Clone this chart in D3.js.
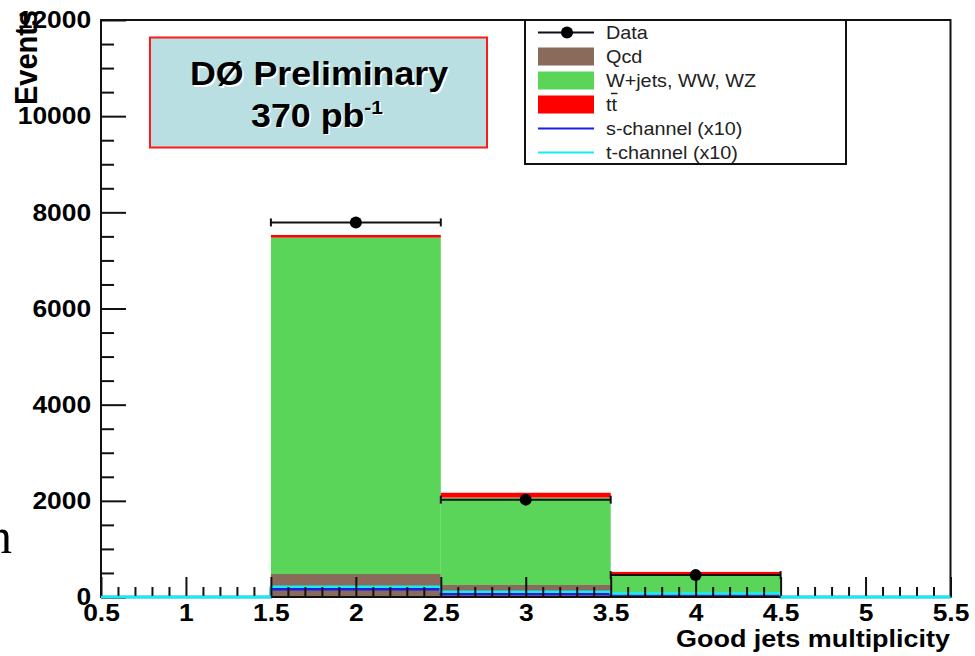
<!DOCTYPE html>
<html>
<head>
<meta charset="utf-8">
<script src="https://cdn.jsdelivr.net/npm/d3@7"></script>
<style>
  html, body { margin: 0; padding: 0; background: #fff; }
  svg { display: block; }
  text { font-family: "Liberation Sans", Arial, Helvetica, sans-serif; }
</style>
</head>
<body>
<svg id="chart" width="975" height="656"></svg>
<script>
// Jet multiplicity bins (bin centres) and per-bin event counts
const bins = [1, 2, 3, 4, 5];
const qcd = [0, 478, 250, 60, 0];
const wjets = [0, 6996, 1819, 377, 0];
const ttbar = [0, 55, 99, 85, 0];
const sChannelX10 = [0, 160, 62, 10, 0];
const tChannelX10 = [0, 214, 110, 77, 0];

// Observed data
const dataBins = [2, 3, 4];
const dataCounts = [7790, 2025, 455];

// Axis labels
const xTickValues = [0.5, 1, 1.5, 2, 2.5, 3, 3.5, 4, 4.5, 5, 5.5];
const yTickValues = [0, 2000, 4000, 6000, 8000, 10000, 12000];

const colors = {
  qcd: "#8a6a5b",
  wjets: "#5ad55a",
  ttbar: "#ff0000",
  s: "#1c1ce6",
  t: "#12eef2"
};
const SX = 1.1; // horizontal stretch of the lettering

const svg = d3.select("#chart");
const x = d3.scaleLinear().domain([0.5, 5.5]).range([101, 950.5]);
const y = d3.scaleLinear().domain([0, 12000]).range([597, 20]);

// Stray slide text at the left edge
svg.append("g").attr("transform", "translate(12,553)")
  .append("text").attr("text-anchor", "end")
  .style("font-family", "'Liberation Serif', 'Times New Roman', serif")
  .attr("font-size", 50).text("n");

// Stacked background histograms
const rows = bins.map((b, i) => ({ bin: b, qcd: qcd[i], wjets: wjets[i], ttbar: ttbar[i] }));
const stack = d3.stack().keys(["qcd", "wjets", "ttbar"])(rows);
const gHist = svg.append("g");
stack.forEach(layer => {
  gHist.selectAll(null).data(layer).join("rect")
    .attr("x", d => x(d.data.bin - 0.5))
    .attr("width", d => x(d.data.bin + 0.5) - x(d.data.bin - 0.5))
    .attr("y", d => y(d[1]))
    .attr("height", d => Math.max(0, y(d[0]) - y(d[1])))
    .attr("fill", colors[layer.key]);
});

// Single-top signal (x10) drawn as step outlines
function stepPoints(vals) {
  const pts = bins.map((b, i) => [b - 0.5, vals[i]]);
  pts.push([bins[bins.length - 1] + 0.5, vals[vals.length - 1]]);
  return pts;
}
const stepLine = d3.line().x(d => x(d[0])).y(d => y(d[1])).curve(d3.curveStepAfter);
svg.append("path").attr("d", stepLine(stepPoints(sChannelX10)))
  .attr("fill", "none").attr("stroke", colors.s).attr("stroke-width", 2.5);
svg.append("path").attr("d", stepLine(stepPoints(tChannelX10)))
  .attr("fill", "none").attr("stroke", colors.t).attr("stroke-width", 2.5);

// Axes: ticks drawn inward
function styleAxis(g) {
  g.select(".domain").remove();
  g.selectAll("line").attr("stroke", "#111").attr("stroke-width", 2);
  g.selectAll("text")
    .attr("font-size", 24).attr("font-weight", "bold").attr("fill", "#000")
    .attr("transform", `scale(${SX},1)`);
}
const xMinor = d3.range(6, 55).map(v => v / 10).filter(v => Math.abs(v * 2 - Math.round(v * 2)) > 1e-6);
svg.append("g").attr("transform", `translate(0,${y(0)})`)
  .call(d3.axisBottom(x).tickValues(xMinor).tickSize(-10).tickFormat(""))
  .call(styleAxis);
svg.append("g").attr("transform", `translate(0,${y(0)})`)
  .call(d3.axisBottom(x).tickValues(xTickValues).tickSize(-20).tickPadding(7)
    .tickFormat(d3.format("")))
  .call(styleAxis);

const yMinor = d3.range(500, 12000, 500).filter(v => v % 2000 !== 0);
svg.append("g").attr("transform", `translate(${x(0.5)},0)`)
  .call(d3.axisLeft(y).tickValues(yMinor).tickSize(-13).tickFormat(""))
  .call(styleAxis);
svg.append("g").attr("transform", `translate(${x(0.5)},0)`)
  .call(d3.axisLeft(y).tickValues(yTickValues).tickSize(-25).tickPadding(9)
    .tickFormat(d3.format("")))
  .call(styleAxis);

// Frame
svg.append("rect")
  .attr("x", x(0.5)).attr("y", y(12000))
  .attr("width", x(5.5) - x(0.5)).attr("height", y(0) - y(12000))
  .attr("fill", "none").attr("stroke", "#111").attr("stroke-width", 2);
// Signal t-channel at zero sits over the bottom axis line
svg.append("line")
  .attr("x1", x(0.5)).attr("x2", x(1.5)).attr("y1", y(0)).attr("y2", y(0))
  .attr("stroke", colors.t).attr("stroke-width", 2.5);
svg.append("line")
  .attr("x1", x(4.5)).attr("x2", x(5.5)).attr("y1", y(0)).attr("y2", y(0))
  .attr("stroke", colors.t).attr("stroke-width", 2.5);

// Data points with bin-width and statistical error bars
const gData = svg.append("g");
dataBins.forEach((b, i) => {
  const n = dataCounts[i];
  const cy = y(n);
  gData.append("line").attr("x1", x(b - 0.5)).attr("x2", x(b + 0.5))
    .attr("y1", cy).attr("y2", cy).attr("stroke", "#111").attr("stroke-width", 2);
  [b - 0.5, b + 0.5].forEach(e => gData.append("line")
    .attr("x1", x(e)).attr("x2", x(e)).attr("y1", cy - 4).attr("y2", cy + 4)
    .attr("stroke", "#111").attr("stroke-width", 2));
  const err = Math.sqrt(n);
  gData.append("line").attr("x1", x(b)).attr("x2", x(b))
    .attr("y1", y(n + err)).attr("y2", y(n - err))
    .attr("stroke", "#111").attr("stroke-width", 2);
  gData.append("circle").attr("cx", x(b)).attr("cy", cy).attr("r", 6).attr("fill", "#000");
});

// Axis titles
svg.append("g").attr("transform", `translate(950,647) scale(${SX},1)`)
  .append("text").attr("text-anchor", "end").attr("font-size", 24.5)
  .attr("font-weight", "bold").text("Good jets multiplicity");
svg.append("g").attr("transform", `translate(37,10) rotate(-90) scale(1,${SX})`)
  .append("text").attr("text-anchor", "end").attr("font-size", 29)
  .attr("font-weight", "bold").text("Events");

// Experiment label
svg.append("rect").attr("x", 150).attr("y", 37.5).attr("width", 337).attr("height", 110)
  .attr("fill", "#b9dfe3").attr("stroke", "#ff1a1a").attr("stroke-width", 2);
function titleText(tx, ty, build) {
  [["#fff", 1.5], ["#000", 0]].forEach(([fill, off]) => {
    const t = svg.append("g").attr("transform", `translate(${tx + off},${ty + off}) scale(${SX},1)`)
      .append("text").attr("text-anchor", "middle").attr("font-weight", "bold")
      .attr("font-size", 32.5).attr("fill", fill);
    build(t);
  });
}
titleText(319, 85, t => t.text("DØ Preliminary"));
titleText(317, 126.5, t => {
  t.append("tspan").text("370 pb");
  t.append("tspan").attr("font-size", 19).attr("dy", -13).text("-1");
});

// Legend
const lg = svg.append("g");
lg.append("rect").attr("x", 525).attr("y", 20).attr("width", 321).attr("height", 144)
  .attr("fill", "#fff").attr("stroke", "#111").attr("stroke-width", 2);
const legendItems = [
  { label: "Data", kind: "data" },
  { label: "Qcd", kind: "box", color: colors.qcd },
  { label: "W+jets, WW, WZ", kind: "box", color: colors.wjets },
  { label: "tt", kind: "box", color: colors.ttbar, bar: true },
  { label: "s-channel (x10)", kind: "line", color: colors.s },
  { label: "t-channel (x10)", kind: "line", color: colors.t }
];
const lx0 = 538, lx1 = 594, ltx = 606;
legendItems.forEach((it, i) => {
  const cy = 32.5 + i * 24;
  if (it.kind === "data") {
    lg.append("line").attr("x1", lx0).attr("x2", lx1).attr("y1", cy).attr("y2", cy)
      .attr("stroke", "#111").attr("stroke-width", 2);
    lg.append("circle").attr("cx", (lx0 + lx1) / 2 + 1).attr("cy", cy).attr("r", 6).attr("fill", "#000");
  } else if (it.kind === "box") {
    lg.append("rect").attr("x", lx0).attr("y", cy - 9).attr("width", lx1 - lx0).attr("height", 18)
      .attr("fill", it.color);
  } else {
    lg.append("line").attr("x1", lx0).attr("x2", lx1).attr("y1", cy).attr("y2", cy)
      .attr("stroke", it.color).attr("stroke-width", 2);
  }
  lg.append("g").attr("transform", `translate(${ltx},${cy + 6}) scale(${SX},1)`)
    .append("text").attr("font-size", 18).attr("fill", "#222").text(it.label);
  if (it.bar) {
    lg.append("line").attr("x1", ltx + 5).attr("x2", ltx + 11.5)
      .attr("y1", cy - 11).attr("y2", cy - 11).attr("stroke", "#222").attr("stroke-width", 1.5);
  }
});
</script>
</body>
</html>
